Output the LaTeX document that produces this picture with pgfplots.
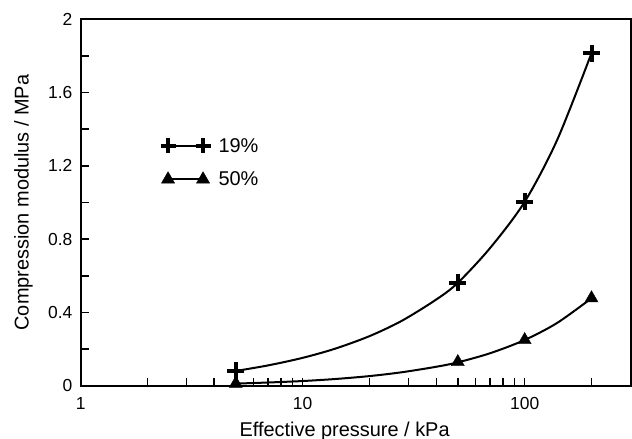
\documentclass[border=0pt]{standalone}
\usepackage{pgfplots}
\pgfplotsset{compat=1.18}
\usepackage{fontspec}
\setmainfont{Liberation Sans}
\begin{document}
\begin{tikzpicture}
\useasboundingbox (-80.6bp,-53.2bp) rectangle (551.4bp,385.8bp);
\begin{axis}[
  at={(0,0)}, anchor=south west,
  scale only axis, width=550bp, height=366.5bp,
  xmode=log, xmin=1, xmax=300, ymin=0, ymax=2,
  axis line style={line width=2bp},
  tick style={line width=1.6bp, black},
  tick align=inside, xtick pos=left, ytick pos=left,
  major tick length=8bp, minor tick length=8bp,
  xtick={1,10,100}, xticklabels={1,10,100},
  minor xtick={2,3,4,5,6,7,8,9,20,30,40,50,60,70,80,90,200},
  ytick={0,0.4,0.8,1.2,1.6,2},
  yticklabels={0,0.4,0.8,1.2,1.6,2},
  minor ytick={0.2,0.6,1.0,1.4,1.8},
  ticklabel style={font=\fontsize{17.5}{21}\selectfont},
  xticklabel style={anchor=base, inner sep=0pt, yshift=-23.5bp},
  yticklabel style={anchor=east, inner sep=0pt, xshift=-8bp},
  xlabel={Effective pressure / kPa},
  ylabel={Compression modulus / MPa},
  xlabel style={font=\fontsize{20}{24}\selectfont, at={(axis description cs:0.48,0)}, anchor=base, yshift=-50.2bp},
  ylabel style={font=\fontsize{20}{24}\selectfont, at={(axis description cs:-0.104,0.5)}, anchor=center},
  clip=false,
  legend image code/.code={\draw[#1, line width=1.6bp] plot coordinates {(0bp,0bp) (35bp,0bp)};},
  legend style={draw=none, fill=none, inner sep=0pt, at={(axis description cs:0.145,0.609)}, anchor=west,
    font=\fontsize{20}{24}\selectfont, row sep=14bp, column sep=6bp},
  legend cell align=left,
]
\addlegendimage{black, mark=+, mark size=7.5bp, mark options={line width=3.6bp}}
\addlegendentry{19\%}
\addlegendimage{black, mark=triangle*, mark size=7.5bp, mark options={line width=0.5bp}}
\addlegendentry{50\%}
% fitted curves
\addplot[black, line width=2bp, smooth, forget plot] coordinates {
(5,0.081) (7,0.1115) (10,0.1525) (14,0.2025) (20,0.271) (28,0.355) (40,0.471)
(50,0.562) (70,0.753) (100,1.004) (140,1.341) (200,1.815)};
\addplot[black, line width=2bp, smooth, forget plot] coordinates {
(5,0.012) (7,0.018) (10,0.026) (14,0.037) (20,0.053) (28,0.074) (40,0.104)
(50,0.128) (70,0.178) (100,0.25) (140,0.343) (200,0.478)};
% data points
\addplot[only marks, black, mark=+, mark size=8.5bp, mark options={line width=4bp}, forget plot] coordinates {
(5,0.081) (50,0.562) (100,1.005) (200,1.815)};
\addplot[only marks, black, mark=triangle*, mark size=7.5bp, forget plot] coordinates {
(5,0.012) (50,0.13) (100,0.25) (200,0.478)};
\end{axis}
\end{tikzpicture}
\end{document}
